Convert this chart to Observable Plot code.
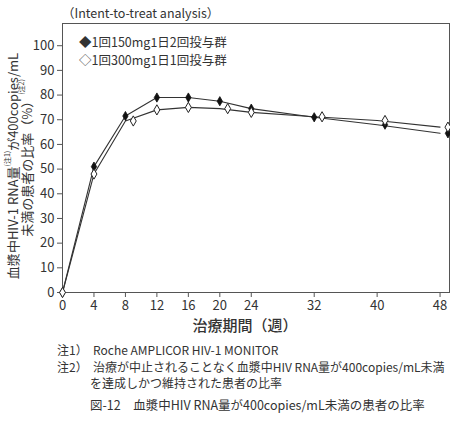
<!DOCTYPE html>
<html>
<head>
<meta charset="utf-8">
<script src="https://cdn.jsdelivr.net/npm/d3@7"></script>
<script src="https://cdn.jsdelivr.net/npm/@observablehq/plot@0.6"></script>
<style>
  body { margin: 0; background: white; }
  #chart svg { display: block; }
</style>
</head>
<body>
<div id="chart"></div>
<script>
// weeks of the visits and % of patients < 400 copies/mL
const weeks = [0, 4, 8, 12, 16, 20, 24, 32, 40, 48]
const bid = [0, 51, 71.5, 79, 79, 77.5, 74.5, 71, 68, 64.5]   // 1回150mg1日2回
const qd = [0, 48, 69.5, 74, 75, 74.5, 73, 71.2, 69.7, 67]    // 1回300mg1日1回
// markers are drawn a little off the visit week in the original
const bidMarkWeeks = [0, 4, 8, 12, 16, 20, 24, 32, 41, 49]
const qdMarkWeeks = [0, 4, 9, 12, 16, 21, 24, 33, 41, 49]
const xTicks = [0, 4, 8, 12, 16, 20, 24, 32, 40, 48]
const yTicks = d3.range(0, 101, 10)

const font = "'Noto Sans CJK JP', 'Noto Sans', sans-serif"
const ink = "#333"

const rows = (w, v) => w.map((d, i) => ({week: d, pct: v[i]}))
const bidLine = rows(weeks, bid)
const qdLine = rows(weeks, qd)
const bidDots = rows(bidMarkWeeks, bid)
const qdDots = rows(qdMarkWeeks, qd)

let chart = Plot.plot({
  width: 450,
  height: 425,
  marginTop: 23,
  marginLeft: 62,
  marginRight: 1,
  marginBottom: 133,
  x: {domain: [0, 49.2]},
  y: {domain: [0, 109]},
  style: {fontFamily: font, fontSize: 13, color: ink, background: 'white'},
  marks: [
    Plot.frame({stroke: '#555'}),
    Plot.axisX({ticks: xTicks, tickSize: 5, tickPadding: 3, label: null, fontSize: 13, stroke: '#555'}),
    Plot.axisY({ticks: yTicks, tickSize: 5, tickPadding: 3, label: null, fontSize: 13, stroke: '#555'}),
    Plot.line(bidLine, {x: 'week', y: 'pct', stroke: ink, strokeWidth: 1.1}),
    Plot.line(qdLine, {x: 'week', y: 'pct', stroke: ink, strokeWidth: 1.1}),
    Plot.dot(bidDots, {x: 'week', y: 'pct', symbol: 'diamond', r: 2.8, fill: '#111', stroke: '#111', strokeWidth: 0.8}),
    Plot.dot(qdDots, {x: 'week', y: 'pct', symbol: 'diamond', r: 3.1, fill: 'white', stroke: '#222', strokeWidth: 1}),
  ],
})

const svg = d3.select(chart)
const txt = (x, y, s, size) => svg.append('text')
    .attr('x', x).attr('y', y)
    .attr('font-family', font)
    .attr('font-size', size)
    .attr('fill', ink)
    .attr('text-anchor', 'start')
    .attr('dominant-baseline', 'central')
    .text(s)

txt(62, 12, '（Intent-to-treat analysis）', 12.5)
txt(79, 41, '◆1回150mg1日2回投与群', 12.5)
txt(79, 59, '◇1回300mg1日1回投与群', 12.5)

txt(245, 324, '治療期間（週）', 15).attr('text-anchor', 'middle').attr('font-weight', 500)

// y label, two rotated lines with note marks
const yl1 = svg.append('text')
  .attr('transform', 'translate(12,166) rotate(-90)')
  .attr('text-anchor', 'middle').attr('dominant-baseline', 'central')
  .attr('font-family', font).attr('font-size', 13).attr('fill', ink)
yl1.append('tspan').text('血漿中HIV-1 RNA量')
yl1.append('tspan').attr('font-size', 7).attr('dy', -5).text('(注1)')
yl1.append('tspan').attr('dy', 5).text('が400copies/mL')
const yl2 = svg.append('text')
  .attr('transform', 'translate(26,158) rotate(-90)')
  .attr('text-anchor', 'middle').attr('dominant-baseline', 'central')
  .attr('font-family', font).attr('font-size', 13).attr('fill', ink)
yl2.append('tspan').text('未満の患者の比率（%）')
yl2.append('tspan').attr('font-size', 7).attr('dy', -5).text('(注2)')

txt(57, 349, '注1）  Roche AMPLICOR HIV-1 MONITOR', 12)
txt(57, 366, '注2）  治療が中止されることなく血漿中HIV RNA量が400copies/mL未満', 12)
txt(90, 382, 'を達成しかつ維持された患者の比率', 12)
txt(90, 404, '図-12　血漿中HIV RNA量が400copies/mL未満の患者の比率', 12.5)

d3.select('#chart').append(() => chart)
</script>
</body>
</html>
